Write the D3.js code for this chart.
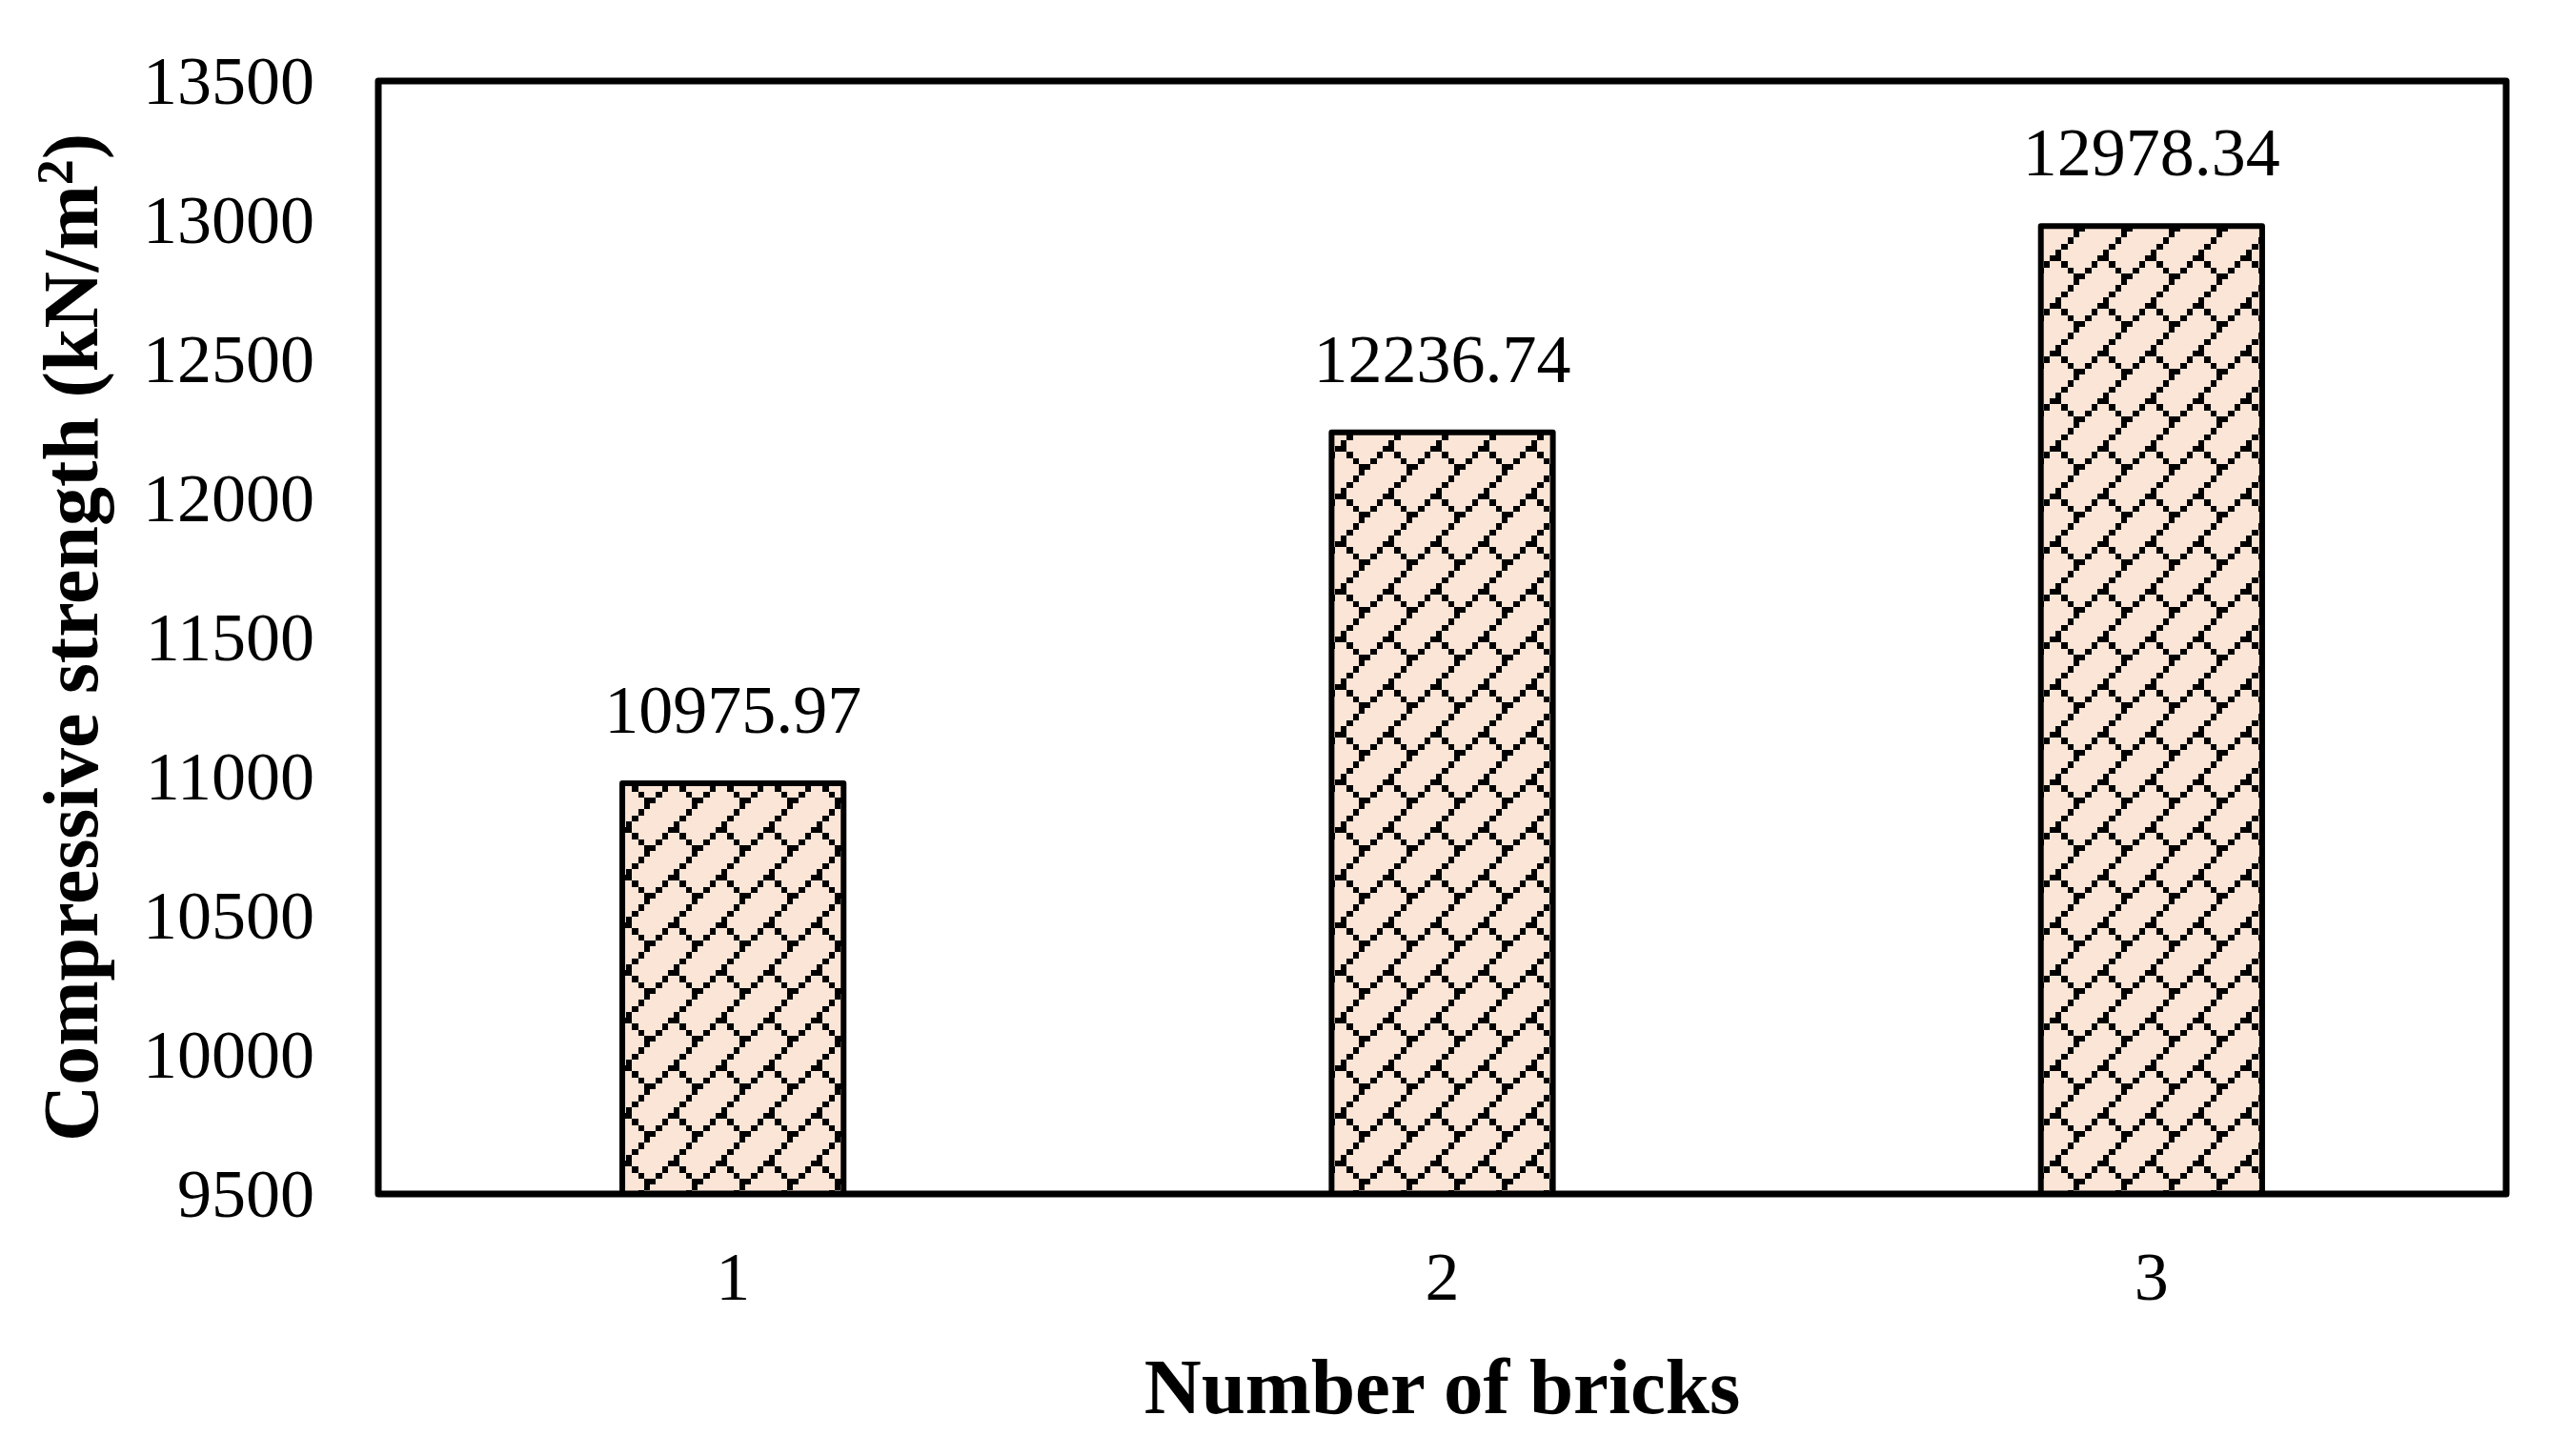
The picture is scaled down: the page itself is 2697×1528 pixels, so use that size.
<!DOCTYPE html>
<html>
<head>
<meta charset="utf-8">
<script src="https://cdn.jsdelivr.net/npm/d3@7"></script>
<style>
  html, body { margin: 0; padding: 0; background: #fff; }
  svg { display: block; }
  text { font-family: "Times New Roman", "Liberation Serif", serif; fill: #000; }
</style>
</head>
<body>
<script>
// chart data
const bricks = ['1', '2', '3'];
const strength = [10975.97, 12236.74, 12978.34];
const yTicks = [9500, 10000, 10500, 11000, 11500, 12000, 12500, 13000, 13500];
const yDomain = [9500, 13500];
const xTitle = 'Number of bricks';
const yTitle = ['Compressive strength (kN/m', '2', ')'];

const width = 2697;
const height = 1528;
const margin = { top: 85, right: 67, bottom: 275, left: 397 };
const innerW = width - margin.left - margin.right;
const innerH = height - margin.top - margin.bottom;

const svg = d3.select('body')
  .append('svg')
  .attr('width', width)
  .attr('height', height)
  .attr('viewBox', `0 0 ${width} ${height}`);

svg.append('rect')
  .attr('width', width)
  .attr('height', height)
  .attr('fill', '#fff');

// diagonal brick hatch, built from 8x8 "bits" like the office pattern
const cell = 50;
const bit = cell / 8;
const pat = svg.append('defs')
  .append('pattern')
  .attr('id', 'diagBrick')
  .attr('patternUnits', 'userSpaceOnUse')
  .attr('width', cell)
  .attr('height', cell)
  .attr('x', 35)
  .attr('y', 8);

pat.append('rect')
  .attr('width', cell)
  .attr('height', cell)
  .attr('fill', '#fbe5d6');

const bits = [];
for (let i = 0; i < 8; i++) bits.push([i, 7 - i]); // long "/" stroke
for (let j = 4; j < 8; j++) bits.push([j, j]);     // short "\" stroke

pat.selectAll('rect.bit')
  .data(bits)
  .enter()
  .append('rect')
  .attr('class', 'bit')
  .attr('x', d => d[0] * bit)
  .attr('y', d => d[1] * bit)
  .attr('width', bit)
  .attr('height', bit)
  .attr('fill', '#000')
  .attr('shape-rendering', 'crispEdges');

const g = svg.append('g')
  .attr('transform', `translate(${margin.left}, ${margin.top})`);

const x = d3.scaleBand()
  .domain(bricks)
  .range([0, innerW])
  .paddingInner(0.688)
  .paddingOuter(0.344);

const y = d3.scaleLinear()
  .domain(yDomain)
  .range([innerH, 0]);

// bars
g.selectAll('rect.bar')
  .data(strength)
  .enter()
  .append('rect')
  .attr('class', 'bar')
  .attr('x', (d, i) => x(bricks[i]))
  .attr('y', d => y(d))
  .attr('width', x.bandwidth())
  .attr('height', d => y(yDomain[0]) - y(d))
  .attr('fill', 'url(#diagBrick)')
  .attr('stroke', '#000')
  .attr('stroke-width', 6)
  .attr('stroke-linejoin', 'round');

// value labels
g.selectAll('text.value')
  .data(strength)
  .enter()
  .append('text')
  .attr('class', 'value')
  .attr('x', (d, i) => x(bricks[i]) + x.bandwidth() / 2)
  .attr('y', d => y(d) - 53)
  .attr('text-anchor', 'middle')
  .style('font-size', '72px')
  .text(d => d.toFixed(2));

// axes
const yAxis = g.append('g')
  .call(d3.axisLeft(y).tickValues(yTicks).tickSize(0).tickPadding(67).tickFormat(d3.format('d')));
yAxis.select('.domain').remove();
yAxis.selectAll('text')
  .attr('dy', '0.33em')
  .style('font-size', '72px')
  .style('font-family', '"Times New Roman", "Liberation Serif", serif');

const xAxis = g.append('g')
  .attr('transform', `translate(0, ${innerH})`)
  .call(d3.axisBottom(x).tickSize(0).tickPadding(60));
xAxis.select('.domain').remove();
xAxis.selectAll('text')
  .style('font-size', '72px')
  .style('font-family', '"Times New Roman", "Liberation Serif", serif');

// plot frame
g.append('rect')
  .attr('width', innerW)
  .attr('height', innerH)
  .attr('fill', 'none')
  .attr('stroke', '#000')
  .attr('stroke-width', 7)
  .attr('stroke-linejoin', 'round');

// titles
svg.append('text')
  .attr('x', margin.left + innerW / 2)
  .attr('y', 1483)
  .attr('text-anchor', 'middle')
  .style('font-size', '83px')
  .style('font-weight', 'bold')
  .text(xTitle);

const yt = svg.append('text')
  .attr('transform', `translate(102, ${margin.top + innerH / 2}) rotate(-90)`)
  .attr('text-anchor', 'middle')
  .style('font-size', '82px')
  .style('font-weight', 'bold');
yt.append('tspan').text(yTitle[0]);
yt.append('tspan').attr('dy', -26).style('font-size', '54px').text(yTitle[1]);
yt.append('tspan').attr('dy', 26).text(yTitle[2]);
</script>
</body>
</html>
